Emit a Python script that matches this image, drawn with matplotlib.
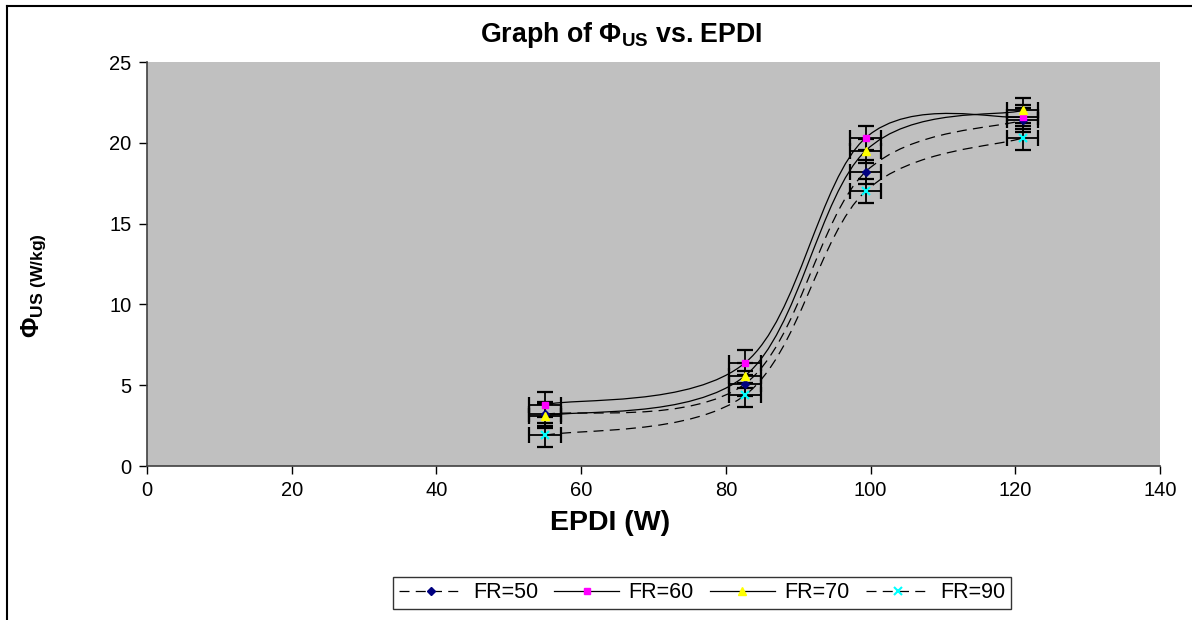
import matplotlib
matplotlib.use("Agg")
import matplotlib.pyplot as plt
from matplotlib.path import Path
from matplotlib.patches import PathPatch
from matplotlib.lines import Line2D
import numpy as np

plt.rcParams['font.family'] = ['Liberation Sans', 'DejaVu Sans']
plt.rcParams['mathtext.fontset'] = 'custom'
plt.rcParams['mathtext.rm'] = 'Liberation Sans:bold'
plt.rcParams['mathtext.bf'] = 'Liberation Sans:bold'
plt.rcParams['mathtext.it'] = 'Liberation Sans:bold'

# ---- data ----
epdi = [55.0, 82.7, 99.3, 121.0]
fr50 = [3.2, 5.1, 18.2, 21.4]
fr60 = [3.8, 6.4, 20.3, 21.6]
fr70 = [3.1, 5.6, 19.5, 22.0]
fr90 = [1.9, 4.4, 17.0, 20.3]
x_err = 2.2
y_err = 0.75
labels = ['FR=50', 'FR=60', 'FR=70', 'FR=90']
xticks = [0, 20, 40, 60, 80, 100, 120, 140]
yticks = [0, 5, 10, 15, 20, 25]

series = [fr50, fr60, fr70, fr90]
styles = [
    dict(ls=(0, (8, 5)), marker='D', mfc='#000080', mec='#000080', ms=4.5, mew=1),
    dict(ls='-', marker='s', mfc='#FF00FF', mec='#FF00FF', ms=5, mew=1),
    dict(ls='-', marker='^', mfc='#FFFF00', mec='#FFFF00', ms=6, mew=1),
    dict(ls=(0, (8, 5)), marker='x', mfc='#00FFFF', mec='#00FFFF', ms=6, mew=1.5),
]

W, H = 1192, 620
fig = plt.figure(figsize=(W / 100, H / 100), dpi=100)
ax = fig.add_axes([147 / W, 1 - 466 / H, (1160 - 147) / W, (466 - 62) / H])
ax.set_facecolor('#C0C0C0')
ax.set_xlim(0, 140)
ax.set_ylim(0, 25)
ax.set_xticks(xticks)
ax.set_yticks(yticks)
ax.tick_params(labelsize=14.5, direction='out', length=6, width=1, color='black', pad=5)
for s in ['top', 'right']:
    ax.spines[s].set_visible(False)
for s in ['left', 'bottom']:
    ax.spines[s].set_color('#404040')
    ax.spines[s].set_linewidth(1.2)


def smooth_path(xs, ys):
    pts = np.column_stack([xs, ys]).astype(float)
    n = len(pts)
    verts = [pts[0]]
    codes = [Path.MOVETO]
    for i in range(n - 1):
        p0 = pts[i - 1] if i > 0 else pts[i]
        p1 = pts[i]
        p2 = pts[i + 1]
        p3 = pts[i + 2] if i + 2 < n else pts[i + 1]
        c1 = p1 + (p2 - p0) / 6.0
        c2 = p2 - (p3 - p1) / 6.0
        verts += [c1, c2, p2]
        codes += [Path.CURVE4] * 3
    return Path(verts, codes)


for ys, st in zip(series, styles):
    patch = PathPatch(smooth_path(epdi, ys), fill=False, edgecolor='black',
                      linewidth=0.9, linestyle=st['ls'], zorder=2)
    ax.add_patch(patch)

for ys, st in zip(series, styles):
    ax.errorbar(epdi, ys, xerr=x_err, yerr=y_err, fmt='none', ecolor='black',
                elinewidth=1.3, capsize=5.5, capthick=1.6, zorder=3)

for ys, st in zip(series, styles):
    ax.plot(epdi, ys, linestyle='none', marker=st['marker'], mfc=st['mfc'],
            mec=st['mec'], ms=st['ms'], mew=st['mew'], zorder=4)

# texts
fig.text(621 / W, 1 - 35 / H, r'Graph of $\Phi_{\mathrm{US}}$ vs. EPDI', ha='center', va='center',
         fontsize=19.3, fontweight='bold')
fig.text(610 / W, 1 - 523 / H, 'EPDI (W)', ha='center', va='center', fontsize=20.5, fontweight='bold')
fig.text(34 / W, 1 - 286 / H, r'$\Phi_{\mathrm{US\ (W/kg)}}$', ha='center', va='center',
         rotation=90, fontsize=18, fontweight='bold')

# legend
handles = []
for lab, st in zip(labels, styles):
    handles.append(Line2D([0], [0], color='black', linewidth=0.9, linestyle=st['ls'],
                          marker=st['marker'], mfc=st['mfc'], mec=st['mec'],
                          ms=st['ms'], mew=st['mew'], label=lab))
leg = fig.legend(handles=handles, loc='upper center', bbox_to_anchor=(702 / W, 1 - 577 / H),
                 ncol=4, fontsize=15.5, frameon=True, fancybox=False, edgecolor='black',
                 handlelength=3.0, handletextpad=0.45, columnspacing=0.75, borderpad=0.25,
                 borderaxespad=0)
leg.get_frame().set_linewidth(1.0)

# outer chart border (partly cut off)
fig.add_artist(Line2D([7.5 / W, 7.5 / W], [0, 1 - 6 / H], transform=fig.transFigure,
                      color='black', linewidth=1.5))
fig.add_artist(Line2D([7.5 / W, 1], [1 - 6 / H, 1 - 6 / H], transform=fig.transFigure,
                      color='black', linewidth=1.5))

fig.savefig('out.png', dpi=100)
